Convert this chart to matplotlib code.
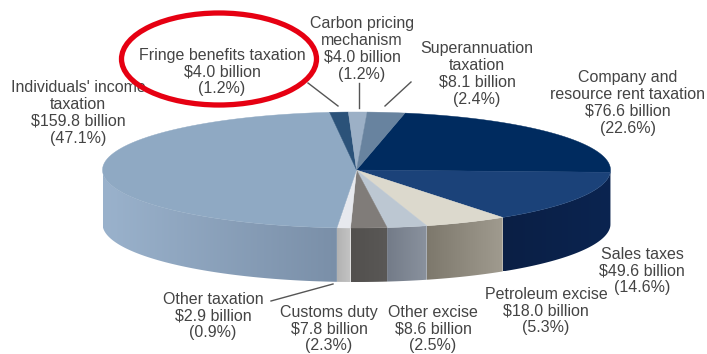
import numpy as np
from matplotlib import pyplot as plt
from matplotlib.colors import LinearSegmentedColormap
from matplotlib.patches import Ellipse, Polygon

# clockwise from the top of the pie
names = ["Company and\nresource rent taxation", "Sales taxes", "Petroleum excise", "Other excise",
         "Customs duty", "Other taxation", "Individuals' income\ntaxation", "Fringe benefits taxation",
         "Carbon pricing\nmechanism", "Superannuation\ntaxation"]
values = [76.6, 49.6, 18.0, 8.6, 7.8, 2.9, 159.8, 4.0, 4.0, 8.1]
shares = [22.6, 14.6, 5.3, 2.5, 2.3, 0.9, 47.1, 1.2, 1.2, 2.4]

top_colors = ["#002b5f", "#1b4279", "#dcd9cd", "#bcc7d2", "#807c79", "#e7e9ee", "#8fa9c3", "#2b5279", "#9cb0c6", "#68839f"]
wall_colors = [("#001c44", "#001c44"), ("#0a2450", "#0b1f45"), ("#a09b8f", "#7d786c"), ("#8a929e", "#737b88"),
               ("#5a5856", "#52504e"), ("#c4c4c4", "#b2b2b2"), ("#7a8fa8", "#9ab2cc"), ("#2b5279", "#2b5279"),
               ("#9cb0c6", "#9cb0c6"), ("#68839f", "#68839f")]

# pie geometry in pixels
cx, cy = 356.5, 170
rx, ry = 254, 58
depth = 54
start = 79.0

label_pos = [(628, 103), (642, 271), (546, 311), (433, 329), (329, 329), (213, 316),
             (78, 113), (222, 72), (362, 49), (477, 74)]
leaders = [((308, 83), (338, 106)), ((359, 83), (359, 108)), ((411, 82), (385, 106)), ((271, 301), (333, 284))]


def rim(a1, a2, n=80):
    t = np.radians(np.linspace(a1, a2, n))
    return cx + rx * np.cos(t), cy - ry * np.sin(t)


fig = plt.figure(figsize=(7.07, 3.54), dpi=100)
ax = fig.add_axes([0, 0, 1, 1])
ax.set_xlim(0, 707)
ax.set_ylim(354, 0)
ax.axis("off")

angles = start - np.cumsum([0] + values) / sum(values) * 360

# side walls first, only the front half of the rim shows
for i in range(len(values)):
    a1, a2 = angles[i], angles[i + 1]
    # keep the part of the wedge between 0 and -180 degrees
    lo, hi = max(a2, -180), min(a1, 0)
    if lo >= hi:
        continue
    x, y = rim(hi, lo)
    pts = np.r_[np.c_[x, y], np.c_[x[::-1], y[::-1] + depth]]
    poly = Polygon(pts, closed=True, fc="none", ec="none")
    ax.add_patch(poly)
    cmap = LinearSegmentedColormap.from_list("wall", [wall_colors[i][1], wall_colors[i][0]])
    if x.min() == x.max():
        continue
    im = ax.imshow(np.linspace(0, 1, 256)[None, :], cmap=cmap, aspect="auto",
                   extent=(x.min(), x.max(), y.max() + depth, y.min()), zorder=2)
    im.set_clip_path(poly)
    ax.set_xlim(0, 707)
    ax.set_ylim(354, 0)

# top surface
for i in range(len(values)):
    x, y = rim(angles[i], angles[i + 1])
    ax.add_patch(Polygon(np.c_[np.r_[cx, x], np.r_[cy, y]], closed=True, fc=top_colors[i],
                         ec=top_colors[i], lw=0.3, zorder=3))

for p, q in leaders:
    ax.plot([p[0], q[0]], [p[1], q[1]], color="#555555", lw=1.0, zorder=4)

for i in range(len(values)):
    txt = f"{names[i]}\n${values[i]:.1f} billion\n({shares[i]:.1f}%)"
    ax.text(label_pos[i][0], label_pos[i][1], txt, ha="center", va="center", fontsize=11.5,
            family="Liberation Sans", color="#444444", linespacing=1.14, zorder=5)

# red ring around the fringe benefits label
ax.add_patch(Ellipse((219, 59), 195, 92, fc="none", ec="#e60012", lw=3.8, zorder=6))

fig.savefig("out.png", dpi=100)
